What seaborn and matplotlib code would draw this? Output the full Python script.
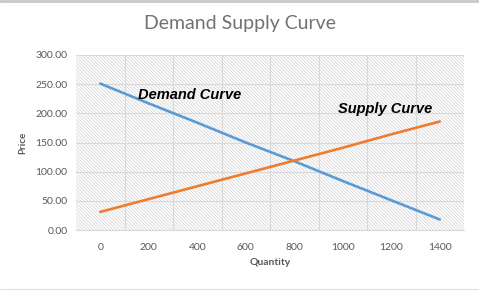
import matplotlib
matplotlib.use("Agg")
import matplotlib.pyplot as plt
import seaborn as sns
import pandas as pd
from matplotlib.patches import Rectangle
from matplotlib.lines import Line2D

quantity = [0, 200, 400, 600, 800, 1000, 1200, 1400]
demand = [251, 217, 184, 150, 118, 84, 51, 18]
supply = [31, 53, 75, 97, 119, 141, 164, 186]
y_ticks = [0, 50, 100, 150, 200, 250, 300]

df = pd.DataFrame({"Quantity": quantity * 2,
                   "Price": demand + supply,
                   "Curve": ["Demand"] * len(quantity) + ["Supply"] * len(quantity)})

sns.set_theme(style="white")
plt.rcParams["font.family"] = ["Lato", "DejaVu Sans"]
plt.rcParams["hatch.linewidth"] = 0.6

fig = plt.figure(figsize=(4.79, 2.91), dpi=100)
ax = fig.add_axes([76/479, 1-230/291, (464-76)/479, (230-55)/291])

# hatched plot area background
ax.add_patch(Rectangle((0, 0), 1, 1, transform=ax.transAxes, facecolor="white",
                       edgecolor="#d8d8d8", linewidth=0, hatch="\\" * 10, zorder=0))

sns.lineplot(data=df, x="Quantity", y="Price", hue="Curve",
             palette={"Demand": "#5b9bd5", "Supply": "#ed7d31"},
             linewidth=1.9, legend=False, ax=ax, zorder=3)

ax.set_xlim(-100, 1500)
ax.set_ylim(0, 300)
ax.set_xticks(quantity)
ax.set_xticklabels([str(q) for q in quantity])
ax.set_yticks(y_ticks)
ax.set_yticklabels([f"{v:.2f}" for v in y_ticks])
ax.set_xticks([q + 100 for q in quantity[:-1]], minor=True)

ax.grid(False)
ax.grid(axis="y", which="major", color="#d9d9d9", linewidth=0.8, zorder=1)
ax.grid(axis="x", which="minor", color="#d9d9d9", linewidth=0.8, zorder=1)
ax.set_axisbelow(True)

ax.tick_params(axis="both", which="both", length=0, labelsize=7.5, labelcolor="#595959")
ax.tick_params(axis="x", pad=9)
ax.tick_params(axis="y", pad=6)
for name, sp in ax.spines.items():
    sp.set_color("#d9d9d9")
    sp.set_linewidth(0.8)
    sp.set_visible(name in ("bottom",))

ax.set_xlabel("Quantity", fontsize=7.5, fontweight="bold", color="#595959", labelpad=5)
ax.set_ylabel("Price", fontsize=7, fontweight="bold", color="#595959", labelpad=6)

ax.text(138/479, 1-95/291, "Demand Curve", transform=fig.transFigure,
        fontsize=10.5, fontweight="bold", fontstyle="italic",
        family=["Liberation Sans", "DejaVu Sans"], color="black",
        ha="left", va="center", zorder=5)
ax.text(338/479, 1-109/291, "Supply Curve", transform=fig.transFigure,
        fontsize=10.5, fontweight="bold", fontstyle="italic",
        family=["Liberation Sans", "DejaVu Sans"], color="black",
        ha="left", va="center", zorder=5)

fig.text(240/479, 1-24/291, "Demand Supply Curve", fontsize=14, color="#767171",
         ha="center", va="center")

# sheet borders
fig.add_artist(Line2D([0, 1], [1-1/291, 1-1/291], transform=fig.transFigure,
                      color="#c8c8c8", linewidth=2))
fig.add_artist(Line2D([0, 1], [1-289/291, 1-289/291], transform=fig.transFigure,
                      color="#e0e0e0", linewidth=0.8))

fig.savefig("out.png", dpi=100)
